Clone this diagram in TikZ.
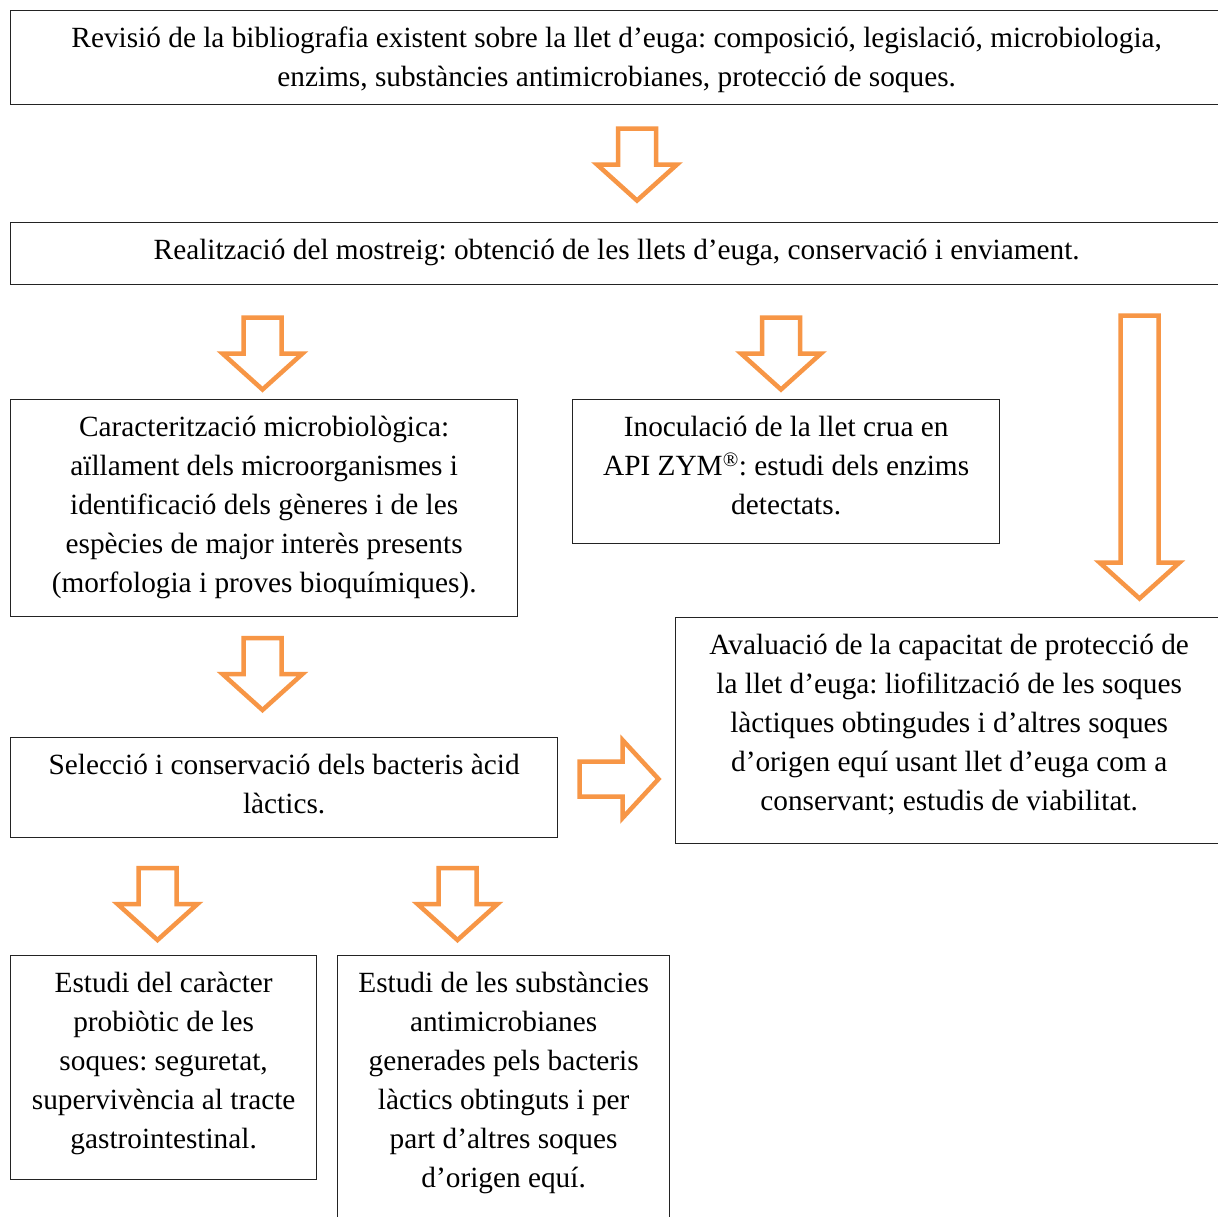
\documentclass[tikz,border=0pt]{standalone}
\usepackage{fontspec}
\setmainfont{Liberation Serif}
\usetikzlibrary{positioning}
\definecolor{arrorange}{RGB}{247,150,70}
\definecolor{boxline}{RGB}{35,35,35}
\tikzset{
  stepbox/.style={rectangle, draw=boxline, line width=1.3pt, anchor=north west,
    inner sep=0pt, font=\fontsize{29.3}{39}\selectfont},
  hollow/.style={draw=arrorange, line width=4.5pt, fill=white, line join=miter},
  pics/downarr/.style={code={
    \draw[hollow] (-19,0) -- (19,0) -- (19,#1) -- (40,#1) -- (0,#1+36) -- (-40,#1) -- (-19,#1) -- cycle;}},
  pics/rightarr/.style={code={
    \draw[hollow] (0,-17.5) -- (43,-17.5) -- (43,-39) -- (79,0) -- (43,39) -- (43,17.5) -- (0,17.5) -- cycle;}}
}
\frenchspacing
% text box: width, height, text
\newcommand{\boxtext}[3]{\parbox[c][#2][t]{#1}{\centering\rule{0pt}{37pt}#3\par}}

\begin{document}
\begin{tikzpicture}[x=1pt, y=-1pt]
  \useasboundingbox (0,0) rectangle (1218,1216);
  \clip (0,0) rectangle (1218,1216);
  \fill[white] (0,0) rectangle (1218,1216);

  % Boxes
  \node[stepbox] (rev) at (10,10) {\boxtext{1212pt}{94pt}{Revisió de la bibliografia existent sobre la llet d’euga: composició, legislació, microbiologia,\\ enzims, substàncies antimicrobianes, protecció de soques.}};
  \node[stepbox] (mos) at (10,222) {\boxtext{1212pt}{62pt}{Realització del mostreig: obtenció de les llets d’euga, conservació i enviament.}};
  \node[stepbox] (car) at (10,399) {\boxtext{507pt}{217pt}{Caracterització microbiològica:\\ aïllament dels microorganismes i\\ identificació dels gèneres i de les\\ espècies de major interès presents\\ (morfologia i proves bioquímiques).}};
  \node[stepbox] (ino) at (572,399) {\boxtext{427pt}{144pt}{Inoculació de la llet crua en\\ API ZYM\textsuperscript{®}: estudi dels enzims\\ detectats.}};
  \node[stepbox] (ava) at (675,617) {\boxtext{547pt}{226pt}{Avaluació de la capacitat de protecció de\\ la llet d’euga: liofilització de les soques\\ làctiques obtingudes i d’altres soques\\ d’origen equí usant llet d’euga com a\\ conservant; estudis de viabilitat.}};
  \node[stepbox] (sel) at (10,737) {\boxtext{547pt}{100pt}{Selecció i conservació dels bacteris àcid\\ làctics.}};
  \node[stepbox] (pro) at (10,955) {\boxtext{306pt}{224pt}{Estudi del caràcter\\ probiòtic de les\\ soques: seguretat,\\ supervivència al tracte\\ gastrointestinal.}};
  \node[stepbox] (ant) at (337,955) {\boxtext{332pt}{280pt}{Estudi de les substàncies\\ antimicrobianes\\ generades pels bacteris\\ làctics obtinguts i per\\ part d’altres soques\\ d’origen equí.}};

  % Block arrows
  \pic at (637,128.5) {downarr=36};
  \pic at (262.5,317.5) {downarr=36};
  \pic at (781,317.5) {downarr=36};
  \pic at (1139.5,315.5) {downarr=247};
  \pic at (262.5,638) {downarr=36};
  \pic at (579.5,779) {rightarr};
  \pic at (157.5,868) {downarr=36};
  \pic at (457.5,868) {downarr=36};
\end{tikzpicture}
\end{document}
